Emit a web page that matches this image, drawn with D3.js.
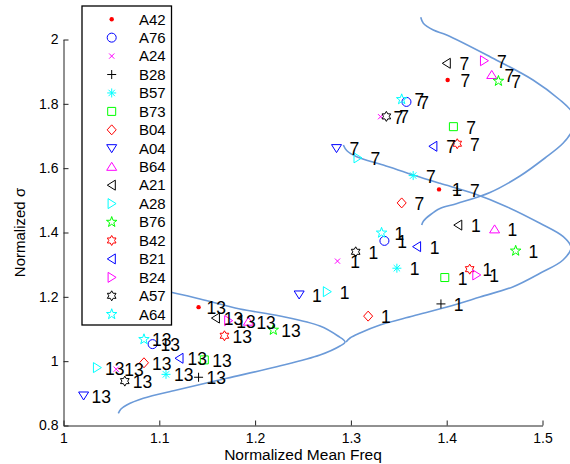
<!DOCTYPE html>
<html>
<head>
<meta charset="utf-8">
<script src="https://cdn.jsdelivr.net/npm/d3@7"></script>
<style>
  body { margin: 0; background: #fff; }
  svg { display: block; font-family: "Liberation Sans", Arial, Helvetica, sans-serif; }
</style>
</head>
<body>
<svg id="chart" width="570" height="464"></svg>
<script>
// ---- data ---------------------------------------------------------------
const seriesNames   = ["A42","A76","A24","B28","B57","B73","B04","A04","B64","A21","A28","B76","B42","B21","B24","A57","A64"];
const seriesColors  = ["#ff0000","#0000ff","#ff00ff","#000000","#00ffff","#00ff00",
                       "#ff0000","#0000ff","#ff00ff","#000000","#00ffff","#00ff00",
                       "#ff0000","#0000ff","#ff00ff","#000000","#00ffff"];
const seriesMarkers = [".","o","x","+","*","s","d","v","^","<",">","p","h","<",">","h","p"];

const clusterIds = [1, 7, 13];

// normalized mean frequency / normalized sigma, one entry per series
const freq1  = [1.392,1.335,1.286,1.394,1.348,1.398,1.318,1.246,1.450,1.412,1.275,1.472,1.424,1.369,1.431,1.305,1.332];
const sigma1 = [1.534,1.374,1.311,1.178,1.289,1.260,1.140,1.207,1.410,1.423,1.216,1.343,1.286,1.356,1.268,1.340,1.399];

const freq7  = [1.401,1.358,1.331,1.411,1.365,1.407,1.353,1.285,1.447,1.400,1.307,1.454,1.411,1.386,1.439,1.337,1.353];
const sigma7 = [1.874,1.806,1.760,1.531,1.577,1.729,1.492,1.662,1.890,1.926,1.632,1.871,1.676,1.668,1.934,1.761,1.814];

const freq13  = [1.141,1.093,1.055,1.141,1.107,1.147,1.084,1.021,1.193,1.159,1.035,1.219,1.168,1.121,1.172,1.064,1.084];
const sigma13 = [1.168,1.053,0.975,0.950,0.959,1.004,0.995,0.893,1.123,1.134,0.980,1.097,1.079,1.009,1.126,0.938,1.068];

const clusterFreq  = [freq1, freq7, freq13];
const clusterSigma = [sigma1, sigma7, sigma13];

// distribution outlines of each cluster: [mean freq, sigma]
const outline7 = [[1.3729,2.069],[1.3756,2.0504],[1.386,2.0295],[1.400,2.014],[1.4452,1.9465],[1.4901,1.8741],
                  [1.5183,1.8119],[1.5308,1.7746],[1.5339,1.7466],[1.5308,1.7155],[1.5214,1.6773],[1.5026,1.6316],
                  [1.4765,1.5756],[1.4452,1.5244],[1.4108,1.4902],[1.393,1.4746],[1.3826,1.4544],[1.3758,1.4357],[1.3739,1.4233]];
const outline1 = [[1.2921,1.672],[1.2956,1.6549],[1.3061,1.6356],[1.3338,1.6098],[1.3651,1.5788],[1.393,1.5529],
                  [1.4275,1.5219],[1.4626,1.4802],[1.4974,1.4286],[1.5217,1.3869],[1.5298,1.3534],[1.5214,1.3145],
                  [1.4974,1.2732],[1.4695,1.2315],[1.4348,1.1995],[1.4003,1.1684],[1.3648,1.1404],[1.3304,1.1124],
                  [1.3095,1.0876],[1.2991,1.072],[1.2949,1.0596]];
const outline13 = [[1.0572,1.2937],[1.0608,1.2732],[1.0729,1.2523],[1.0903,1.2315],[1.1425,1.1933],[1.1842,1.1622],
                   [1.226,1.1404],[1.2677,1.1093],[1.2865,1.0782],[1.2939,1.0596],[1.2886,1.0472],[1.2677,1.0192],
                   [1.2225,0.9828],[1.1704,0.9467],[1.1182,0.9104],[1.0833,0.8846],[1.066,0.8637],[1.06,0.8513],[1.0572,0.8379]];
const outlines = [outline7, outline1, outline13];

const xTicks = [1, 1.1, 1.2, 1.3, 1.4, 1.5];
const xTickLabels = ["1","1.1","1.2","1.3","1.4","1.5"];
const yTicks = [0.8, 1, 1.2, 1.4, 1.6, 1.8, 2];
const yTickLabels = ["0.8","1","1.2","1.4","1.6","1.8","2"];

const xTitle = "Normalized Mean Freq";
const yTitle = "Normalized \u03c3";

// ---- layout -------------------------------------------------------------
const svg = d3.select("#chart");
svg.append("rect").attr("width", 570).attr("height", 464).attr("fill", "#fff");

const x = d3.scaleLinear().domain([1, 1.5]).range([63.5, 542.5]);
const y = d3.scaleLinear().domain([0.8, 2]).range([425.5, 39.5]);

// ---- marker shapes ------------------------------------------------------
function markerPath(type) {
  const pts = (arr) => "M" + arr.map(p => p[0].toFixed(2) + "," + p[1].toFixed(2)).join("L") + "Z";
  const star = (n, R, r) => {
    const a = [];
    for (let i = 0; i < 2 * n; i++) {
      const ang = -Math.PI / 2 + i * Math.PI / n;
      const rad = i % 2 === 0 ? R : r;
      a.push([rad * Math.cos(ang), rad * Math.sin(ang)]);
    }
    return pts(a);
  };
  switch (type) {
    case ".": { const r = 2.2; return `M${r},0A${r},${r} 0 1,1 ${-r},0A${r},${r} 0 1,1 ${r},0Z`; }
    case "o": { const r = 4.5; return `M${r},0A${r},${r} 0 1,1 ${-r},0A${r},${r} 0 1,1 ${r},0Z`; }
    case "x": { const s = 2.6; return `M${-s},${-s}L${s},${s}M${-s},${s}L${s},${-s}`; }
    case "+": { const s = 4.5; return `M${-s},0L${s},0M0,${-s}L0,${s}`; }
    case "*": { const s = 4.5, d = 3.2; return `M${-s},0L${s},0M0,${-s}L0,${s}M${-d},${-d}L${d},${d}M${-d},${d}L${d},${-d}`; }
    case "s": return pts([[-4,-4],[4,-4],[4,4],[-4,4]]);
    case "d": return pts([[0,-5],[4.5,0],[0,5],[-4.5,0]]);
    case "v": return pts([[-5,-3.6],[5,-3.6],[0,4.4]]);
    case "^": return pts([[-5,3.6],[5,3.6],[0,-4.4]]);
    case "<": return pts([[3.6,-5],[3.6,5],[-4.4,0]]);
    case ">": return pts([[-3.6,-5],[-3.6,5],[4.4,0]]);
    case "p": return star(5, 5.5, 2.2);
    case "h": return star(6, 5, 2.9);
  }
  return "";
}
function drawMarker(g, type, color, cx, cy) {
  g.append("path")
    .attr("d", markerPath(type))
    .attr("transform", `translate(${cx},${cy})`)
    .attr("fill", type === "." ? color : "none")
    .attr("stroke", color)
    .attr("stroke-width", type === "." ? 0 : 1);
}

// ---- axes ---------------------------------------------------------------
const xAxis = d3.axisBottom(x).tickValues(xTicks)
  .tickFormat((d, i) => xTickLabels[i]).tickSizeInner(-5).tickSizeOuter(0).tickPadding(8);
const yAxis = d3.axisLeft(y).tickValues(yTicks)
  .tickFormat((d, i) => yTickLabels[i]).tickSizeInner(-5).tickSizeOuter(0).tickPadding(5);

const gx = svg.append("g").attr("transform", `translate(0,${y(0.8)})`).call(xAxis);
const gy = svg.append("g").attr("transform", `translate(${x(1)},0)`).call(yAxis);
[gx, gy].forEach(g => {
  g.select(".domain").attr("stroke", "#222");
  g.selectAll(".tick line").attr("stroke", "#222");
  g.selectAll(".tick text").attr("fill", "#000").style("font-size", "14px")
    .style("font-family", '"Liberation Sans", Arial, sans-serif');
});

svg.append("text")
  .attr("x", (x(1) + x(1.5)) / 2).attr("y", 460)
  .attr("text-anchor", "middle")
  .style("font-size", "15.5px")
  .text(xTitle);

svg.append("text")
  .attr("transform", `translate(25,${(y(0.8) + y(2)) / 2}) rotate(-90)`)
  .attr("text-anchor", "middle")
  .style("font-size", "15px")
  .text(yTitle);

// ---- cluster distribution outlines -------------------------------------
const line = d3.line().x(d => x(d[0])).y(d => y(d[1])).curve(d3.curveCatmullRom.alpha(0.5));
svg.append("g").selectAll("path").data(outlines).join("path")
  .attr("d", line)
  .attr("fill", "none")
  .attr("stroke", "#6b9ad8")
  .attr("stroke-width", 1.6);

// ---- points and their cluster labels -----------------------------------
const gPts = svg.append("g");
const gLbl = svg.append("g");
clusterIds.forEach((cid, c) => {
  const fx = clusterFreq[c], sy = clusterSigma[c];
  seriesNames.forEach((name, i) => {
    const cx = x(fx[i]), cy = y(sy[i]);
    drawMarker(gPts, seriesMarkers[i], seriesColors[i], cx, cy);
    gLbl.append("text")
      .attr("x", cx + 8)
      .attr("y", cy + 7)
      .attr("xml:space", "preserve")
      .style("white-space", "pre")
      .style("font-size", "17.5px")
      .attr("fill", "#000")
      .text(String(cid).padStart(2, " "));
  });
});

// ---- legend -------------------------------------------------------------
const leg = svg.append("g");
leg.append("rect")
  .attr("x", 82).attr("y", 6).attr("width", 89.5).attr("height", 319)
  .attr("fill", "#fff").attr("stroke", "#000").attr("stroke-width", 1.3);
seriesNames.forEach((name, i) => {
  const ry = 19.2 + i * 18.44;
  drawMarker(leg, seriesMarkers[i], seriesColors[i], 111.7, ry);
  leg.append("text")
    .attr("x", 139).attr("y", ry + 5.3)
    .style("font-size", "15px")
    .attr("fill", "#000")
    .text(name);
});
</script>
</body>
</html>
